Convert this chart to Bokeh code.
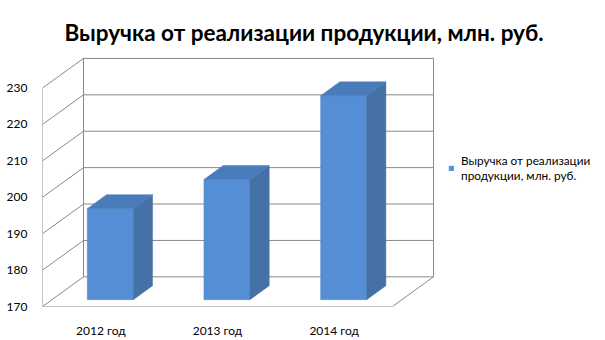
import numpy as np
from bokeh.plotting import figure
from bokeh.models import Range1d, FixedTicker, Legend, LegendItem
from bokeh.embed import file_html
from bokeh.resources import INLINE

# ---- data ----
categories = ["2012 год", "2013 год", "2014 год"]
values = [195, 203, 226]
y_ticks = [170, 180, 190, 200, 210, 220, 230]
series_name = "Выручка от реализации\nпродукции, млн. руб."
title_text = "Выручка от реализации продукции, млн. руб."

# ---- layout (pixels) ----
W, H = 605, 340
L, R, T, B = 42, 600, 50, 309
n = len(categories)
px_per_cat = 350 / n
y0, y1 = y_ticks[0], y_ticks[-1]
px_per_val = 221 / (y1 - y0)
DX = 41 / px_per_cat          # depth offset in category units
DY = 30 / px_per_val          # depth offset in value units
BW = 46 / px_per_cat          # bar width
F0, FD = 0.23, 0.47           # bar front depth fraction / bar depth fraction

GRID = "#898989"
FRONT, SIDE, TOP = "#558ED5", "#4671A6", "#4A7BBB"
FONT = "Lato"

p = figure(width=W, height=H, output_backend="svg", toolbar_location=None,
           x_range=Range1d(0, (R - L) / px_per_cat),
           y_range=Range1d(y0, y0 + (B - T) / px_per_val),
           min_border_left=L, min_border_right=W - R,
           min_border_top=T, min_border_bottom=H - B)
p.title.text = title_text
p.title.align = "left"
p.title.offset = 22
p.title.text_font = FONT
p.title.text_font_size = "22.5px"
p.title.text_font_style = "bold"
p.title.text_color = "#000000"
p.grid.visible = False
p.outline_line_color = None
p.background_fill_color = "white"

# axes
p.yaxis.ticker = FixedTicker(ticks=y_ticks)
p.xaxis.ticker = FixedTicker(ticks=[i + 0.5 for i in range(n)])
p.xaxis.major_label_overrides = {i + 0.5: c for i, c in enumerate(categories)}
for ax in (p.xaxis, p.yaxis):
    ax.axis_line_color = None
    ax.major_tick_line_color = None
    ax.minor_tick_line_color = None
    ax.major_label_text_font = FONT
    ax.major_label_text_font_size = "12px"
    ax.major_label_text_color = "#000000"
p.yaxis.major_label_standoff = 9
p.xaxis.major_label_standoff = 10

# walls & gridlines
xs, ys = [], []
for v in y_ticks:
    xs.append([0, DX, n + DX]); ys.append([v, v + DY, v + DY])
xs.append([DX, DX]); ys.append([y0 + DY, y1 + DY])
xs.append([n + DX, n + DX]); ys.append([y0 + DY, y1 + DY])
xs.append([0, 0]); ys.append([y0, y1])
xs.append([0, n, n + DX]); ys.append([y0, y0, y0 + DY])
p.multi_line(xs, ys, line_color=GRID, line_width=1)

# bars
fx, fy, sx, sy, tx, ty = [], [], [], [], [], []
for i, v in enumerate(values):
    c = i + 0.5
    xl = c - BW / 2 + F0 * DX
    xr = c + BW / 2 + F0 * DX
    yb = y0 + F0 * DY
    yt = v + F0 * DY
    ddx, ddy = FD * DX, FD * DY
    fx.append([xl, xr, xr, xl]); fy.append([yb, yb, yt, yt])
    sx.append([xr, xr + ddx, xr + ddx, xr]); sy.append([yb, yb + ddy, yt + ddy, yt])
    tx.append([xl, xr, xr + ddx, xl + ddx]); ty.append([yt, yt, yt + ddy, yt + ddy])
front = p.patches(fx, fy, fill_color=FRONT, line_color=FRONT, line_width=0.5)
p.patches(sx, sy, fill_color=SIDE, line_color=SIDE, line_width=0.5)
p.patches(tx, ty, fill_color=TOP, line_color=TOP, line_width=0.5)

legend = Legend(items=[LegendItem(label=series_name, renderers=[front])],
                location=(406, 123), glyph_width=6, glyph_height=6,
                label_standoff=7, padding=0, margin=0, spacing=0,
                border_line_color=None, background_fill_alpha=0,
                label_text_font=FONT, label_text_font_size="11.8px",
                label_text_color="#000000")
p.add_layout(legend)

open("out.html", "w").write(file_html(p, INLINE))
